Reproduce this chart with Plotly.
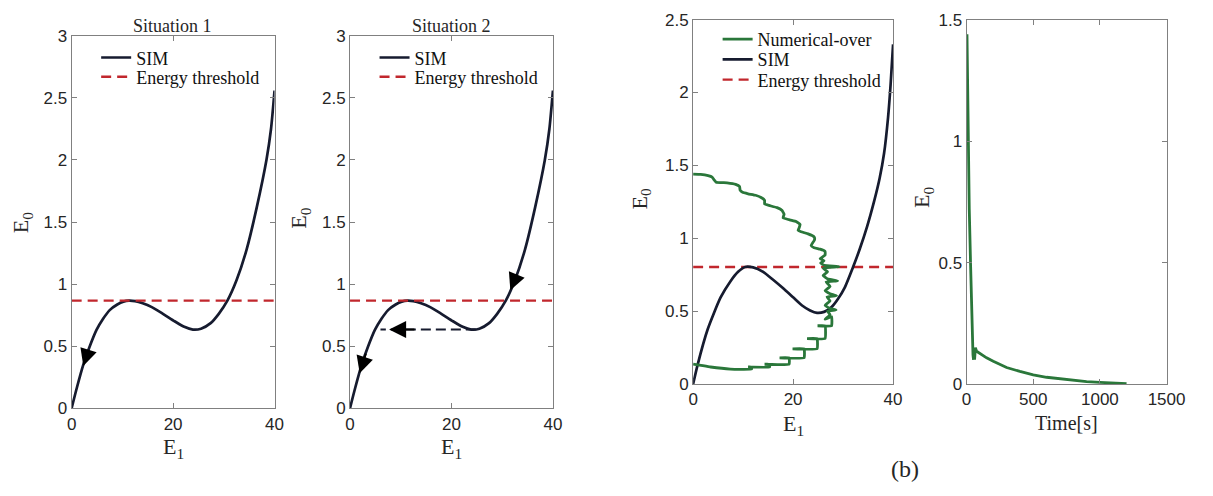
import plotly.graph_objects as go

W, H = 1213, 496

# ---------------- data ----------------
# SIM curve, situations 1 and 2
sim12_E1 = [0, 1, 2.3, 3.5, 4.9, 6.2, 7.5, 9.0, 10.2, 11.3, 12.5, 14.0, 15.8, 18.0, 20.3,
            22.2, 23.9, 25.5, 27.4, 29.0, 30.7, 32.5, 34.5, 36.5, 38.4, 39.3, 40]
sim12_E0 = [0, 0.16, 0.35, 0.49, 0.63, 0.72, 0.79, 0.835, 0.858, 0.866, 0.862, 0.845, 0.814, 0.76, 0.70,
            0.655, 0.633, 0.64, 0.685, 0.76, 0.866, 1.03, 1.28, 1.62, 2.0, 2.25, 2.56]
threshold12 = 0.866
threshold_E1 = [0, 40]

# return path (situation 2)
return_E1 = [24.8, 6.0]
return_E0 = [0.633, 0.633]

# SIM curve, panel (b)
simb_E1 = [0, 0.9, 2.9, 5.5, 7.45, 9.0, 10.4, 12.0, 14.0, 16.0, 17.9, 20.0, 21.8, 23.4, 24.8,
           26.2, 27.7, 29.0, 30.3, 32.0, 33.3, 34.8, 36.2, 37.3, 38.2, 39.0, 39.5, 40]
simb_E0 = [0, 0.132, 0.374, 0.594, 0.704, 0.77, 0.803, 0.80, 0.77, 0.715, 0.66, 0.595, 0.539, 0.505, 0.488,
           0.495, 0.528, 0.585, 0.66, 0.803, 0.923, 1.08, 1.253, 1.41, 1.583, 1.83, 2.05, 2.33]
thresholdb = 0.803

# Numerical-over trajectory in the (E1, E0) plane
num_E1 = [0.0, 1.5, 3.0, 3.8, 4.2, 4.6, 6.8, 8.5, 9.3, 9.4, 9.9, 11.0, 12.5, 13.6, 14.3, 14.3, 15.2,
          16.8, 17.8, 18.2, 18.0, 19.5, 20.6, 21.4, 21.2, 21.0, 21.6, 23.0, 24.2, 24.3, 23.6, 24.2,
          25.4, 26.4, 26.4, 25.4,
          26.2, 25.5, 26.2, 29.2, 26.0, 26.9, 26.0, 27.0, 28.9, 26.6, 27.4, 26.4, 27.4, 28.7, 26.8,
          27.4, 26.4, 27.3, 28.6, 26.9, 27.4, 26.4, 27.7,
          27.7, 24.9, 26.4, 26.4, 22.8, 24.8, 24.8, 19.9, 22.2, 22.2, 17.3, 19.2, 19.2, 14.3, 15.3,
          15.3, 11.0, 11.7, 11.7, 7.45, 3.5, 1.57, 0.0]
num_E0 = [1.44, 1.438, 1.43, 1.42, 1.40, 1.385, 1.38, 1.37, 1.355, 1.33, 1.315, 1.305, 1.295, 1.28, 1.26,
          1.235, 1.225, 1.21, 1.19, 1.165, 1.14, 1.125, 1.115, 1.095, 1.07, 1.055, 1.045, 1.03, 1.01,
          0.99, 0.95, 0.935, 0.925, 0.91, 0.885, 0.86,
          0.845, 0.83, 0.815, 0.805, 0.795, 0.77, 0.745, 0.72, 0.708, 0.70, 0.67, 0.64, 0.62, 0.606,
          0.598, 0.57, 0.54, 0.52, 0.508, 0.50, 0.475, 0.445, 0.462,
          0.400, 0.400, 0.400, 0.312, 0.312, 0.312, 0.242, 0.242, 0.242, 0.180, 0.180, 0.180, 0.136,
          0.136, 0.136, 0.117, 0.117, 0.117, 0.103, 0.103, 0.117, 0.128, 0.137]

# Numerical-over time history
time_s = [3, 10, 20, 30, 40, 48, 52, 56, 60, 66, 75, 100, 150, 200, 300, 400, 500, 600, 700,
          800, 900, 1000, 1100, 1200]
time_E0 = [1.44, 1.0, 0.72, 0.49, 0.25, 0.12, 0.10, 0.145, 0.10, 0.15, 0.135, 0.125, 0.108, 0.094,
           0.068, 0.052, 0.038, 0.028, 0.021, 0.015, 0.010, 0.007, 0.004, 0.002]

# ---------------- styling ----------------
C_SIM = "#161b2f"
C_RED = "#c1272d"
C_GREEN = "#2a773a"
SERIF = "Liberation Serif, Times New Roman, serif"
SANS = "Liberation Sans, Arial, sans-serif"


def px_x(p):
    return p / W


def px_y(p):
    return 1 - p / H


fig = go.Figure()

sim_line = dict(color=C_SIM, width=2.7, shape="spline", smoothing=0.6)
thr_line = dict(color=C_RED, width=2.4, dash="10px,6px")

# Panel 1
fig.add_trace(go.Scatter(x=sim12_E1, y=sim12_E0, mode="lines", name="SIM", line=sim_line,
                         xaxis="x", yaxis="y", legend="legend"))
fig.add_trace(go.Scatter(x=threshold_E1, y=[threshold12] * 2, mode="lines", name="Energy threshold",
                         line=thr_line, xaxis="x", yaxis="y", legend="legend4"))
# Panel 2
fig.add_trace(go.Scatter(x=sim12_E1, y=sim12_E0, mode="lines", name="SIM", line=sim_line,
                         xaxis="x2", yaxis="y2", legend="legend2"))
fig.add_trace(go.Scatter(x=threshold_E1, y=[threshold12] * 2, mode="lines", name="Energy threshold",
                         line=thr_line, xaxis="x2", yaxis="y2", legend="legend5"))
fig.add_trace(go.Scatter(x=return_E1, y=return_E0, mode="lines", showlegend=False,
                         line=dict(color=C_SIM, width=2.0, dash="10px,5px"),
                         xaxis="x2", yaxis="y2"))
# Panel 3
fig.add_trace(go.Scatter(x=threshold_E1, y=[thresholdb] * 2, mode="lines", name="Energy threshold",
                         line=thr_line, xaxis="x3", yaxis="y3", legend="legend7"))
fig.add_trace(go.Scatter(x=simb_E1, y=simb_E0, mode="lines", name="SIM", line=sim_line,
                         xaxis="x3", yaxis="y3", legend="legend6"))
fig.add_trace(go.Scatter(x=num_E1, y=num_E0, mode="lines", name="Numerical-over",
                         line=dict(color=C_GREEN, width=2.8, shape="spline", smoothing=0.3),
                         xaxis="x3", yaxis="y3", legend="legend3"))
# Panel 4
fig.add_trace(go.Scatter(x=time_s, y=time_E0, mode="lines", showlegend=False,
                         line=dict(color=C_GREEN, width=2.8),
                         xaxis="x4", yaxis="y4"))

axis_common = dict(showline=True, linecolor="#808080", linewidth=1, mirror="ticks",
                   ticks="inside", ticklen=5, tickcolor="#808080", showgrid=False,
                   zeroline=False, tickfont=dict(family=SANS, size=17, color="#262626"),
                   fixedrange=True)

dom_y12 = [px_y(415), px_y(28)]
dom_y34 = [px_y(390), px_y(11)]


def leg(xpx, ypx):
    # ypx = centre of the legend entry in pixels
    return dict(x=px_x(xpx), y=px_y(ypx - 25.5), xanchor="left", yanchor="top",
                bgcolor="rgba(0,0,0,0)", font=dict(family=SERIF, size=18, color="#111"))


fig.update_layout(
    width=W, height=H, margin=dict(l=0, r=0, t=0, b=0),
    paper_bgcolor="white", plot_bgcolor="white",
    xaxis=dict(axis_common, domain=[px_x(68), px_x(275)], range=[0, 40], tickvals=[0, 20, 40], anchor="y"),
    yaxis=dict(axis_common, domain=dom_y12, range=[0, 3], dtick=0.5, anchor="x"),
    xaxis2=dict(axis_common, domain=[px_x(352), px_x(559)], range=[0, 40], tickvals=[0, 20, 40], anchor="y2"),
    yaxis2=dict(axis_common, domain=dom_y12, range=[0, 3], dtick=0.5, anchor="x2"),
    xaxis3=dict(axis_common, domain=[px_x(702), px_x(906)], range=[0, 40], tickvals=[0, 20, 40], anchor="y3"),
    yaxis3=dict(axis_common, domain=dom_y34, range=[0, 2.5], dtick=0.5, anchor="x3"),
    xaxis4=dict(axis_common, domain=[px_x(981), px_x(1185)], range=[0, 1500], dtick=500, anchor="y4"),
    yaxis4=dict(axis_common, domain=dom_y34, range=[0, 1.5], dtick=0.5, anchor="x4"),
    legend=leg(93, 57), legend4=leg(93, 77),
    legend2=leg(377, 57), legend5=leg(377, 77),
    legend3=leg(727, 38), legend6=leg(727, 59), legend7=leg(727, 80),
    showlegend=True,
)

ann = []


def label(text, x, y, size=20, angle=0, family=SERIF):
    ann.append(dict(text=text, x=px_x(x), y=px_y(y), xref="paper", yref="paper",
                    xanchor="center", yanchor="middle", showarrow=False, textangle=angle,
                    font=dict(family=family, size=size, color="#262626")))


label("Situation 1", 171, 18, size=18)
label("Situation 2", 456, 18, size=18)
label("E<sub>1</sub>", 172, 456, size=22)
label("E<sub>1</sub>", 456, 456, size=22)
label("E<sub>1</sub>", 804, 433, size=22)
label("Time[s]", 1083, 431, size=20)
label("E<sub>0</sub>", 18, 222, size=22, angle=-90)
label("E<sub>0</sub>", 301, 218, size=22, angle=-90)
label("E<sub>0</sub>", 649, 198, size=22, angle=-90)
label("E<sub>0</sub>", 937, 196, size=22, angle=-90)
label("(b)", 918, 478, size=24)


def arrow(xr, yr, x, y, ax, ay):
    ann.append(dict(text="", x=x, y=y, ax=ax, ay=ay, xref=xr, yref=yr, axref=xr, ayref=yr,
                    showarrow=True, arrowhead=2, arrowsize=1.7, arrowwidth=2, arrowcolor="#000"))


arrow("x", "y", 2.3, 0.34, 3.4, 0.48)
arrow("x2", "y2", 1.9, 0.28, 3.2, 0.45)
arrow("x2", "y2", 31.6, 0.95, 33.0, 1.09)
arrow("x2", "y2", 7.7, 0.633, 13.0, 0.633)

fig.update_layout(annotations=ann)

fig.write_html("out.html")
